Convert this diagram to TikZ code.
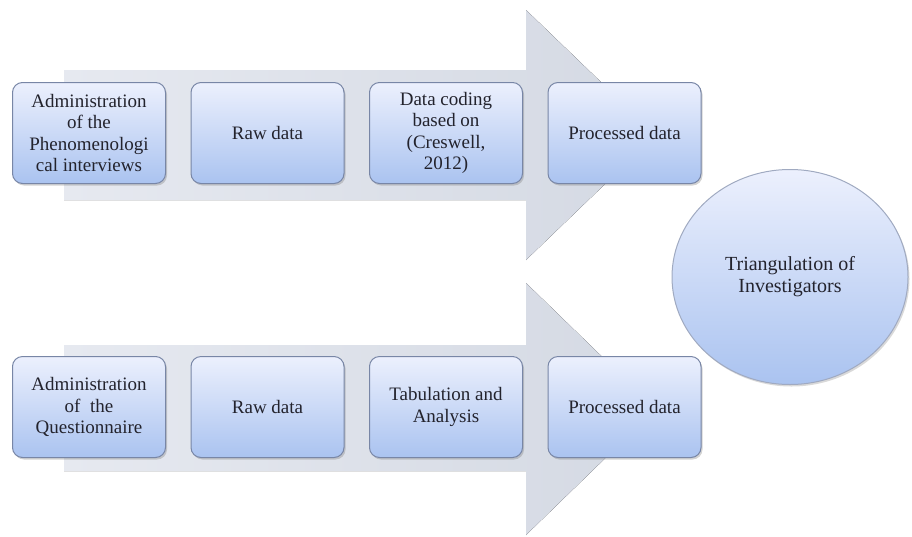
\documentclass[tikz,border=0pt]{standalone}
\usepackage{fontspec}
\setmainfont{Liberation Serif}
\usetikzlibrary{shadows,shapes.geometric}
\definecolor{arrowfill}{RGB}{212,217,227}
\definecolor{arrowlight}{RGB}{230,233,240}
\definecolor{boxtop}{RGB}{236,240,253}
\definecolor{boxbot}{RGB}{170,195,240}
\definecolor{boxline}{RGB}{120,134,166}
\definecolor{txt}{RGB}{35,35,45}
\tikzset{
  stepbox/.style={rectangle, rounded corners=10pt, draw=boxline, line width=1pt,
    top color=boxtop, bottom color=boxbot, minimum width=153pt, minimum height=101pt,
    inner sep=1pt, align=center, text=txt, font=\fontsize{19}{21.5}\selectfont,
    drop shadow={shadow xshift=1.5pt, shadow yshift=-2pt, opacity=0.35}},
  circbox/.style={ellipse, draw=boxline!70, line width=1pt,
    top color=boxtop, bottom color=boxbot, minimum width=236pt, minimum height=215pt,
    align=center, text=txt, font=\fontsize{20}{22}\selectfont,
    drop shadow={shadow xshift=1.5pt, shadow yshift=-2pt, opacity=0.3}},
  bigarrow/.style={left color=arrowlight, right color=arrowfill, draw=none}
}
\begin{document}
\begin{tikzpicture}[x=1pt,y=-1pt]
\useasboundingbox (0,0) rectangle (912,536);
% top arrow
\fill[bigarrow] (64,70) -- (526,70) -- (526,10) -- (656,135) -- (526,260) -- (526,200) -- (64,200) -- cycle;
% bottom arrow
\fill[bigarrow] (64,345) -- (526,345) -- (526,283) -- (656,409) -- (526,535) -- (526,471) -- (64,471) -- cycle;
% top row
\node[stepbox] (a1) at (89,133) {Administration\\of the\\Phenomenologi\\cal interviews};
\node[stepbox] (a2) at (267.5,133) {Raw data};
\node[stepbox] (a3) at (446,133) {Data coding\\based on\\(Creswell,\\2012)};
\node[stepbox] (a4) at (624.5,133) {Processed data};
% bottom row
\node[stepbox] (b1) at (89,407) {Administration\\of\ \ the\\Questionnaire};
\node[stepbox] (b2) at (267.5,407) {Raw data};
\node[stepbox] (b3) at (446,407) {Tabulation and\\Analysis};
\node[stepbox] (b4) at (624.5,407) {Processed data};
% circle
\node[circbox] (c) at (790,277) {Triangulation of\\Investigators};
\end{tikzpicture}
\end{document}
